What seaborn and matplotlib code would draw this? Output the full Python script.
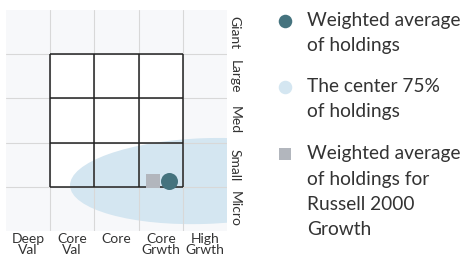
import numpy as np
import pandas as pd
import matplotlib
matplotlib.use("Agg")
import matplotlib.pyplot as plt
from matplotlib.patches import Ellipse, Rectangle
import seaborn as sns

# ---- data ----
style_labels = ["Deep\nVal", "Core\nVal", "Core", "Core\nGrwth", "High\nGrwth"]
size_labels = ["Micro", "Small", "Med", "Large", "Giant"]
fund_x = [3.69]
fund_y = [1.14]
bench_x = [3.32]
bench_y = [1.14]
zone_center = (4.5, 1.13)
zone_width = 6.1
zone_height = 1.94
zone_angle = 2
legend_labels = ["Weighted average\nof holdings",
                 "The center 75%\nof holdings",
                 "Weighted average\nof holdings for\nRussell 2000\nGrowth"]

fund_color = "#45737e"
zone_color = "#d4e6f1"
bench_color = "#b2b6bd"
text_color = "#333333"

sns.set_style("white")
plt.rcParams['font.family'] = ['Lato', 'DejaVu Sans']

W, H = 469, 257
fig = plt.figure(figsize=(W / 100, H / 100), dpi=100)
ax = fig.add_axes([5.7 / W, 1 - 231 / H, (227.3 - 5.7) / W, (231 - 10) / H])
ax.set_xlim(0, 5)
ax.set_ylim(0, 5)
ax.set_facecolor("#f7f8fa")
for s in ax.spines.values():
    s.set_visible(False)

# light grid
ax.set_xticks(np.arange(1, 5), minor=True)
ax.set_yticks(np.arange(1, 5), minor=True)
ax.grid(which='minor', color='#d8d8d8', lw=0.8)
ax.grid(which='major', visible=False)
ax.set_axisbelow(True)

# white 3x3 box
ax.add_patch(Rectangle((1, 1), 3, 3, facecolor='white', edgecolor='none', zorder=0.2))
# ownership zone
ax.add_patch(Ellipse(zone_center, zone_width, zone_height, angle=zone_angle,
                     facecolor=zone_color, edgecolor='none', zorder=0.3))
# black inner grid
ax.vlines(np.arange(1, 5), 1, 4, color='#222222', lw=1.1, zorder=2)
ax.hlines(np.arange(1, 5), 1, 4, color='#222222', lw=1.1, zorder=2)

bench_df = pd.DataFrame({"x": bench_x, "y": bench_y})
fund_df = pd.DataFrame({"x": fund_x, "y": fund_y})
sns.scatterplot(data=bench_df, x="x", y="y", marker="s", s=100, color=bench_color,
                linewidth=0, ax=ax, zorder=3, legend=False)
sns.scatterplot(data=fund_df, x="x", y="y", marker="o", s=150, color=fund_color,
                linewidth=0, ax=ax, zorder=4, legend=False)
ax.set_xlim(0, 5)
ax.set_ylim(0, 5)
ax.set_xlabel("")
ax.set_ylabel("")

ax.set_xticks(np.arange(5) + 0.5)
ax.set_xticklabels(style_labels, linespacing=0.85, fontsize=10, color=text_color)
ax.yaxis.tick_right()
ax.set_yticks(np.arange(5) + 0.5)
ax.set_yticklabels(size_labels, rotation=-90, va='center', fontsize=10, color=text_color)
ax.tick_params(axis='both', which='both', length=0)
ax.tick_params(axis='x', pad=1.5)
ax.tick_params(axis='y', pad=1)

# ---- legend ----
lax = fig.add_axes([0, 0, 1, 1])
lax.set_xlim(0, W)
lax.set_ylim(H, 0)
lax.axis('off')
marker_y = [20.7, 86.7, 154]
markers = ['o', 'o', 's']
msizes = [95, 95, 70]
mcolors = [fund_color, zone_color, bench_color]
for lab, my, mk, ms, mc in zip(legend_labels, marker_y, markers, msizes, mcolors):
    lax.scatter([284.5], [my], marker=mk, s=ms, color=mc, linewidths=0)
    for k, line in enumerate(lab.split("\n")):
        lax.text(307, my + k * 25.3, line, fontsize=13.8, color=text_color,
                 va='center', ha='left')

fig.savefig("out.png", dpi=100)
